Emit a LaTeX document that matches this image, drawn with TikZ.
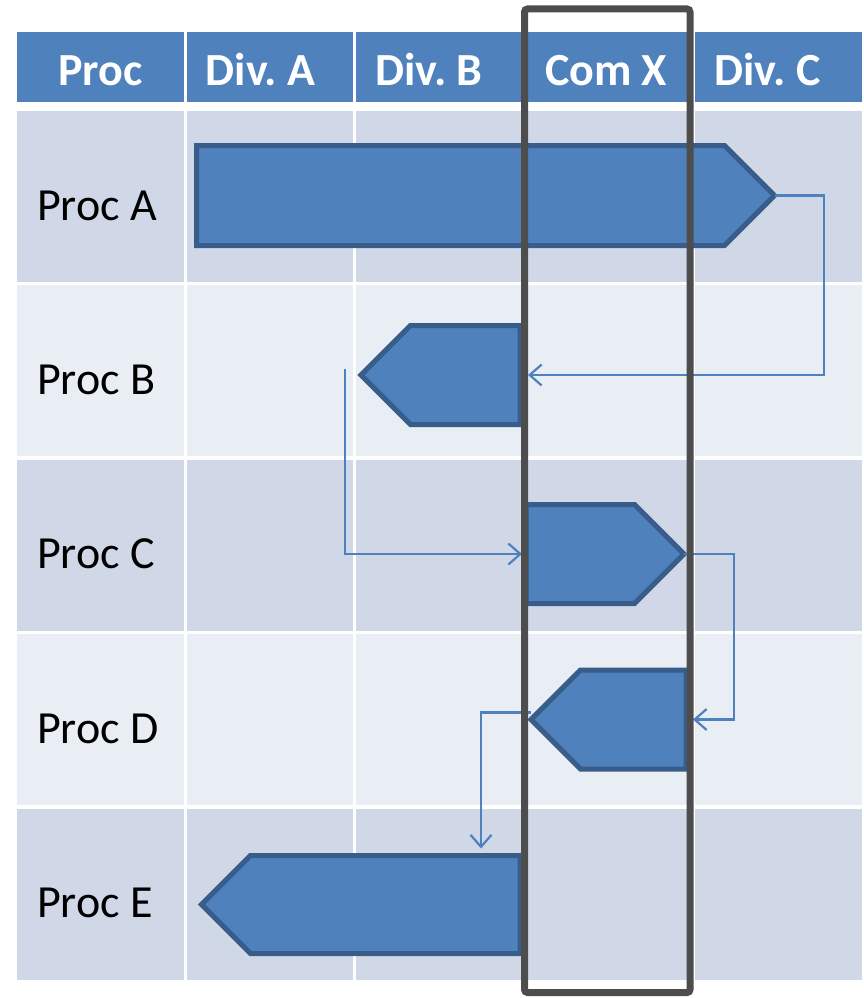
\documentclass[tikz,border=0pt]{standalone}
\usepackage{fontspec}
\setmainfont{Carlito}
\usetikzlibrary{arrows.meta,shapes.symbols}
\frenchspacing

\definecolor{headblue}{HTML}{4F81BD}
\definecolor{rowdark}{HTML}{D0D8E8}
\definecolor{rowlight}{HTML}{E9EDF4}
\definecolor{procedge}{HTML}{385D8A}
\definecolor{comgray}{HTML}{4D4D4D}

\tikzset{
  cell/.style={minimum width=166.6pt, minimum height=171pt, inner sep=0pt, outer sep=0pt},
  headcell/.style={cell, minimum height=70pt, fill=headblue},
  headtext/.style={text=white, font=\fontsize{46}{50}\selectfont\bfseries, inner sep=0pt},
  proctext/.style={font=\fontsize{46}{50}\selectfont, inner sep=0pt, anchor=base west},
  procbox/.style={signal, draw=procedge, fill=headblue, line width=5pt, minimum height=99pt, inner sep=0pt, outer sep=0pt},
  flow/.style={draw=headblue, line width=2.2pt, -{Straight Barb[length=12pt, width=21pt]}},
  combox/.style={draw=comgray, line width=7pt, rounded corners=3pt},
}

\begin{document}
\begin{tikzpicture}[x=1pt, y=-1pt]
\useasboundingbox (0,0) rectangle (864,998);

% header
\foreach \i in {0,...,4}
  \node[headcell] (h\i) at (100.3+169.6*\i, 67) {};
\node[headtext, anchor=base] (th0) at ([yshift=-18pt]h0.center) {Proc};
\foreach \lab [count=\i] in {Div. A, Div. B, Com X, Div. C}
  \node[headtext, anchor=base west] (th\i) at ([xshift=19pt, yshift=-18pt]h\i.west) {\lab};

% rows
\foreach \r/\col [count=\j from 0] in {A/rowdark, B/rowlight, C/rowdark, D/rowlight, E/rowdark} {
  \foreach \i in {0,...,4}
    \node[cell, fill=\col] (c\r\i) at (100.3+169.6*\i, 196.5+174.4*\j) {};
  \node[proctext] (t\r) at ([xshift=20pt, yshift=-23.5pt]c\r0.west) {Proc \r};
}

% process shapes
\node[procbox, signal to=east, minimum height=100pt, minimum width=578pt, anchor=west] (pA) at (196.5,195.5) {};
\node[procbox, signal to=west, minimum width=159pt, anchor=east] (pB) at (520,375) {};
\node[procbox, signal to=east, minimum width=158pt, anchor=west] (pC) at (526,554) {};
\node[procbox, signal to=west, minimum width=155pt, anchor=east] (pD) at (686,719.5) {};
\node[procbox, signal to=west, minimum height=98pt, minimum width=318.5pt, anchor=east] (pE) at (520,904.5) {};

% hand-offs
\draw[flow] (pA.east) -- ++(49.5,0) |- ([xshift=8pt]pB.east);
\draw[flow] ([xshift=-16pt, yshift=6pt]pB.west) |- ([xshift=-4pt]pC.west);
\draw[flow] (pC.east) -- ++(50,0) |- ([xshift=7pt]pD.east);
\draw[flow] ([yshift=7pt]pD.west) -| ([xshift=-39pt, yshift=7pt]pE.north east);

% Com X frame
\draw[combox] (524.5,9) rectangle (690,992.5);
\end{tikzpicture}
\end{document}
